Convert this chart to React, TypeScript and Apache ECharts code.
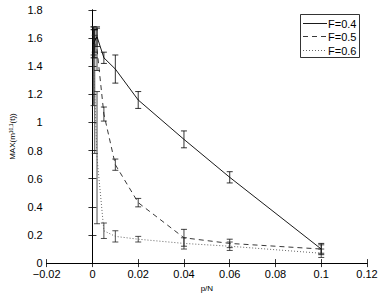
import React, { useEffect, useRef } from "react";
import * as echarts from "echarts";

const pN = [0.0005, 0.001, 0.002, 0.005, 0.01, 0.02, 0.04, 0.06, 0.1];
const f04 = [1.56, 1.58, 1.61, 1.46, 1.38, 1.16, 0.88, 0.61, 0.1];
const f04Err = [0.1, 0.08, 0.07, 0.04, 0.1, 0.06, 0.06, 0.04, 0.04];
const f05 = [1.58, 1.56, 1.52, 1.06, 0.7, 0.43, 0.18, 0.14, 0.1];
const f05Err = [0.1, 0.1, 0.15, 0.05, 0.04, 0.03, 0.06, 0.03, 0.03];
const f06 = [1.4, 1.2, 0.75, 0.23, 0.19, 0.17, 0.14, 0.12, 0.07];
const f06Err = [0.28, 0.42, 0.47, 0.055, 0.04, 0.02, 0.04, 0.03, 0.03];
const seriesNames = ["F=0.4", "F=0.5", "F=0.6"];
const dashes: any[] = [null, [5, 4], [1, 2]];
const lineColors = ["#000", "#222", "#555"];
const errColors = ["#000", "#111", "#222"];

const FONT = "Liberation Sans, Arial, Helvetica, sans-serif";

function errSeries(vals: number[], errs: number[], color: string) {
  return {
    type: "custom",
    xAxisIndex: 0,
    yAxisIndex: 0,
    silent: true,
    data: pN.map((x, i) => [x, vals[i] - errs[i], vals[i] + errs[i]]),
    encode: { x: 0, y: [1, 2] },
    renderItem: (params: any, api: any) => {
      const x = api.value(0);
      const lo = api.coord([x, api.value(1)]);
      const hi = api.coord([x, api.value(2)]);
      const w = 3;
      const style = { stroke: color, lineWidth: 0.8 };
      return {
        type: "group",
        children: [
          { type: "line", shape: { x1: lo[0], y1: lo[1], x2: hi[0], y2: hi[1] }, style },
          { type: "line", shape: { x1: lo[0] - w, y1: lo[1], x2: lo[0] + w, y2: lo[1] }, style },
          { type: "line", shape: { x1: hi[0] - w, y1: hi[1], x2: hi[0] + w, y2: hi[1] }, style },
        ],
      };
    },
  };
}

function lineSeries(name: string, vals: number[], type: any, color: string) {
  return {
    name,
    type: "line",
    xAxisIndex: 0,
    yAxisIndex: 0,
    symbol: "none",
    data: pN.map((x, i) => [x, vals[i]]),
    lineStyle: { color, width: 0.9, type },
    itemStyle: { color },
  };
}

export default function App() {
  const ref = useRef<HTMLDivElement>(null);
  useEffect(() => {
    if (!ref.current) return;
    const chart = echarts.init(ref.current, null, { renderer: "svg" });
    const xFmt = (v: number) => String(+v.toFixed(2)).replace("-", "\u2212");
    const yFmt = (v: number) => String(+v.toFixed(1));
    const axisCommon = {
      axisLine: { show: true, lineStyle: { color: "#000", width: 1 } },
      axisTick: { show: true, inside: true, length: 4, lineStyle: { color: "#000", width: 0.8 } },
      splitLine: { show: false },
    };
    const legendRows = [23, 36, 50];
    const legendChildren: any[] = [
      {
        type: "rect",
        shape: { x: 300.5, y: 14.5, width: 59, height: 43 },
        style: { fill: "#fff", stroke: "#000", lineWidth: 0.8 },
      },
    ];
    seriesNames.forEach((n, i) => {
      legendChildren.push({
        type: "line",
        shape: { x1: 303, y1: legendRows[i] + 0.5, x2: 327, y2: legendRows[i] + 0.5 },
        style: { stroke: lineColors[i], lineWidth: 0.9, lineDash: dashes[i] || undefined },
      });
      legendChildren.push({
        type: "text",
        x: 328,
        y: legendRows[i] + 0.5,
        style: {
          text: n,
          fontSize: 11,
          fontFamily: FONT,
          fill: "#000",
          verticalAlign: "middle",
          align: "left",
        },
      });
    });
    chart.setOption({
      animation: false,
      backgroundColor: "#fff",
      textStyle: { fontFamily: FONT },
      grid: { left: 35, right: 15, top: 10, bottom: 26, containLabel: false },
      xAxis: [
        {
          type: "value",
          min: -0.02,
          max: 0.12,
          interval: 0.02,
          name: "p/N",
          nameLocation: "middle",
          nameGap: 18,
          nameTextStyle: { fontSize: 8, color: "#000", fontFamily: FONT },
          axisLabel: { fontSize: 11, color: "#000", margin: 5, formatter: xFmt, fontFamily: FONT },
          ...axisCommon,
        },
        {
          type: "value",
          position: "top",
          min: -0.02,
          max: 0.12,
          interval: 0.02,
          axisLabel: { show: false },
          ...axisCommon,
        },
      ],
      yAxis: [
        {
          type: "value",
          min: 0,
          max: 1.8,
          interval: 0.2,
          name: "MAX(m{sup|10,1}(t))",
          nameLocation: "middle",
          nameRotate: 90,
          nameGap: 25,
          nameTextStyle: {
            fontSize: 8,
            color: "#000",
            fontFamily: FONT,
            rich: {
              sup: { fontSize: 5, verticalAlign: "bottom", color: "#000", fontFamily: FONT, padding: [0, 0, 4, 0] },
            },
          },
          axisLabel: { fontSize: 11, color: "#000", margin: 4, formatter: yFmt, fontFamily: FONT },
          ...axisCommon,
        },
        {
          type: "value",
          position: "right",
          min: 0,
          max: 1.8,
          interval: 0.2,
          axisLabel: { show: false },
          ...axisCommon,
        },
      ],
      graphic: [{ type: "group", children: legendChildren }],
      series: [
        errSeries(f04, f04Err, errColors[0]),
        errSeries(f05, f05Err, errColors[1]),
        errSeries(f06, f06Err, errColors[2]),
        lineSeries(seriesNames[0], f04, "solid", lineColors[0]),
        lineSeries(seriesNames[1], f05, [5, 4], lineColors[1]),
        lineSeries(seriesNames[2], f06, [1, 2], lineColors[2]),
      ],
    });
    return () => chart.dispose();
  }, []);
  return (
    <div style={{ position: "fixed", left: 0, top: 0, width: 382, height: 297, background: "#fff" }}>
      <div ref={ref} style={{ width: 382, height: 297 }} />
    </div>
  );
}
